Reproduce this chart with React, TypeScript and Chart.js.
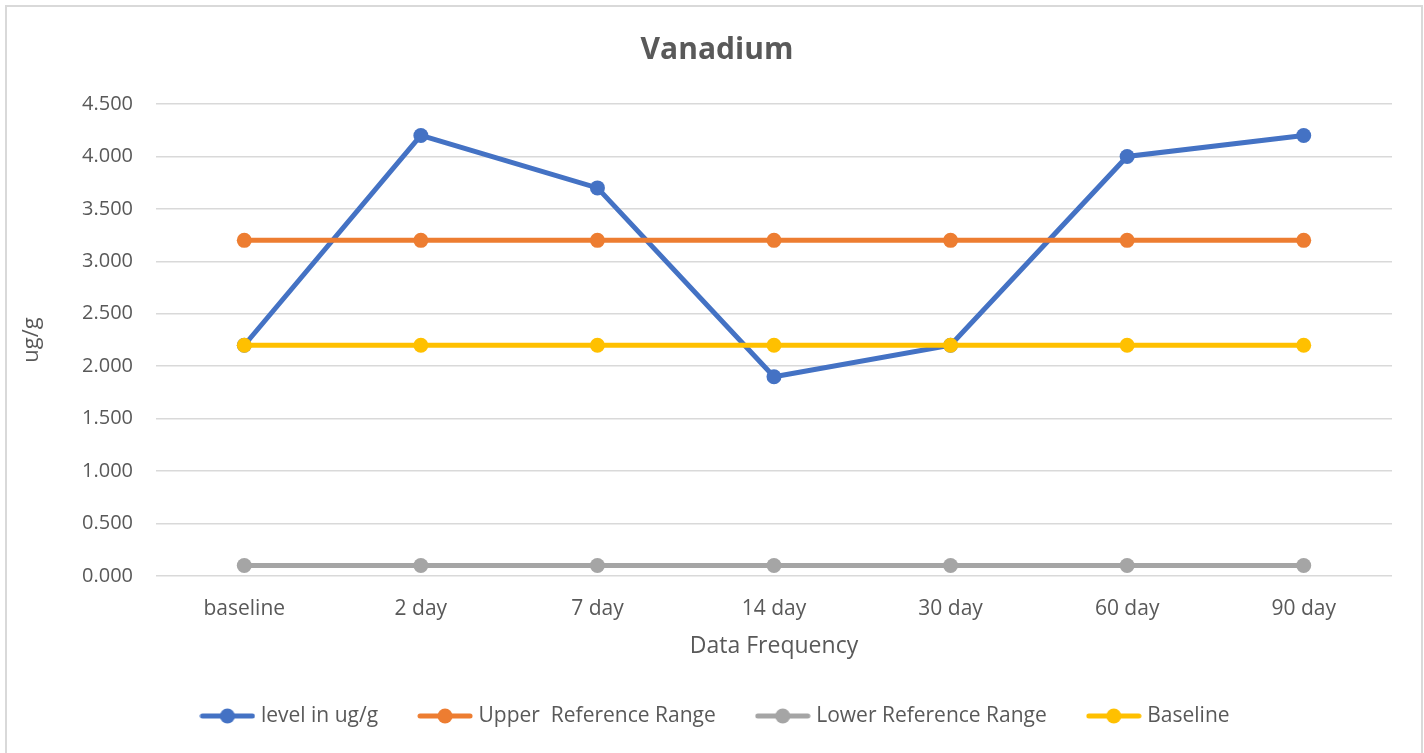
import React, { useEffect, useRef } from "react";
import { Chart, registerables } from "chart.js";

Chart.register(...registerables);

const categories = ["baseline", "2 day", "7 day", "14 day", "30 day", "60 day", "90 day"];
const levelValues = [2.2, 4.2, 3.7, 1.9, 2.2, 4.0, 4.2];
const upperRangeValues = [3.2, 3.2, 3.2, 3.2, 3.2, 3.2, 3.2];
const lowerRangeValues = [0.1, 0.1, 0.1, 0.1, 0.1, 0.1, 0.1];
const baselineValues = [2.2, 2.2, 2.2, 2.2, 2.2, 2.2, 2.2];
const seriesNames = ["level in ug/g", "Upper  Reference Range", "Lower Reference Range", "Baseline"];
const seriesColors = ["#4472C4", "#ED7D31", "#A5A5A5", "#FFC000"];
const yTickMin = 0;
const yTickMax = 4.5;
const yTickStep = 0.5;

const FONT = "'Open Sans', sans-serif";
const TEXT = "#595959";
const GRID = "#d9d9d9";

function legendSwatch(color: string): HTMLCanvasElement {
  const c = document.createElement("canvas");
  c.width = 56;
  c.height = 16;
  const ctx = c.getContext("2d")!;
  ctx.strokeStyle = color;
  ctx.lineWidth = 5;
  ctx.lineCap = "round";
  ctx.beginPath();
  ctx.moveTo(3, 8);
  ctx.lineTo(53, 8);
  ctx.stroke();
  ctx.fillStyle = color;
  ctx.beginPath();
  ctx.arc(28, 8, 7.5, 0, Math.PI * 2);
  ctx.fill();
  return c;
}

export default function App() {
  const ref = useRef<HTMLCanvasElement | null>(null);

  useEffect(() => {
    if (!ref.current) return;
    const seriesData = [levelValues, upperRangeValues, lowerRangeValues, baselineValues];
    const swatches = seriesColors.map(legendSwatch);
    const chart = new Chart(ref.current, {
      type: "line",
      data: {
        labels: categories,
        datasets: seriesData.map((d, i) => ({
          label: seriesNames[i],
          data: d,
          borderColor: seriesColors[i],
          backgroundColor: seriesColors[i],
          borderWidth: 5,
          pointRadius: 7.5,
          pointBorderWidth: 0,
          pointBackgroundColor: seriesColors[i],
          tension: 0,
          order: seriesData.length - 1 - i,
        })),
      },
      options: {
        responsive: false,
        animation: false,
        layout: { padding: { left: 42, right: 32, top: 0, bottom: 16.5 } },
        plugins: {
          title: {
            display: true,
            text: "Vanadium",
            color: TEXT,
            font: { family: FONT, size: 30, weight: "bold" },
            padding: { top: 32, bottom: 36 },
          },
          legend: {
            position: "bottom",
            labels: {
              color: TEXT,
              font: { family: FONT, size: 21 },
              padding: 44,
              usePointStyle: true,
              pointStyleWidth: 46,
              generateLabels: (ch: any) =>
                ch.data.datasets.map((ds: any, i: number) => ({
                  text: ds.label,
                  fillStyle: ds.borderColor,
                  strokeStyle: ds.borderColor,
                  lineWidth: 0,
                  pointStyle: swatches[i],
                  fontColor: TEXT,
                  hidden: false,
                  datasetIndex: i,
                })),
            },
          },
          tooltip: { enabled: false },
        },
        scales: {
          x: {
            offset: true,
            grid: { display: false, drawTicks: false },
            border: { display: false },
            ticks: { color: TEXT, font: { family: FONT, size: 21 }, padding: 20, maxRotation: 0 },
            title: {
              display: true,
              text: "Data Frequency",
              color: TEXT,
              font: { family: FONT, size: 23 },
              padding: { top: 0, bottom: 1.5 },
            },
            afterFit: (s: any) => {
              s.height = 85.5;
            },
          },
          y: {
            min: yTickMin,
            max: yTickMax,
            grid: { color: GRID, lineWidth: 1.5, drawTicks: false },
            border: { display: false },
            ticks: {
              stepSize: yTickStep,
              color: TEXT,
              font: { family: FONT, size: 20 },
              padding: 23,
              callback: (v: any) => Number(v).toFixed(3),
            },
            title: {
              display: true,
              text: "ug/g",
              color: TEXT,
              font: { family: FONT, size: 22 },
              padding: { top: -23, bottom: 0 },
            },
            afterFit: (s: any) => {
              s.width = 114;
            },
          },
        },
      },
    });
    return () => chart.destroy();
  }, []);

  return (
    <div style={{ position: "fixed", left: 0, top: 0, width: 1424, height: 753, background: "#fff", overflow: "hidden" }}>
      <div
        style={{
          position: "absolute",
          left: 5,
          top: 5,
          width: 1418,
          height: 800,
          border: "2px solid #d9d9d9",
          boxSizing: "border-box",
        }}
      />
      <canvas ref={ref} width={1424} height={753} style={{ position: "absolute", left: 0, top: 0 }} />
    </div>
  );
}
